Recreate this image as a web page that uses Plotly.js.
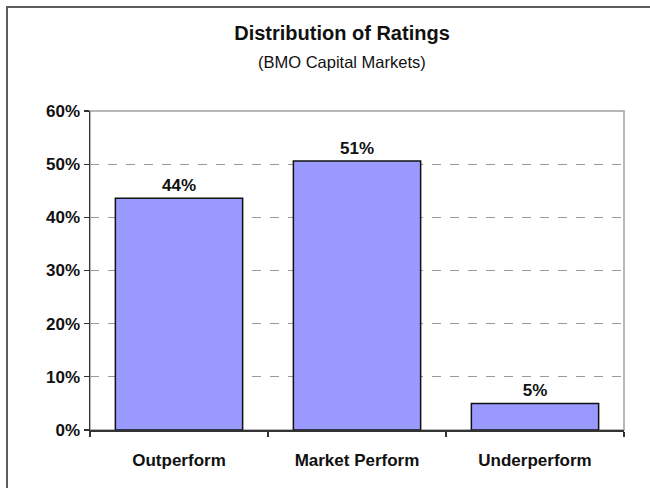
<!DOCTYPE html>
<html>
<head>
<meta charset="utf-8">
<script src="https://cdn.plot.ly/plotly-3.0.1.min.js"></script>
<style>
  html, body { margin: 0; padding: 0; background: #fff; }
  #wrap { position: relative; width: 650px; height: 488px; }
  #chart { width: 650px; height: 488px; }
  #frame { position: absolute; left: 6px; top: 6px; width: 660px; height: 500px;
           border-top: 2px solid #5e5e5e; border-left: 2px solid #5e5e5e;
           pointer-events: none; box-sizing: border-box; }
</style>
</head>
<body>
<div id="wrap">
  <div id="chart"></div>
  <div id="frame"></div>
</div>
<script>
const categories = ["Outperform", "Market Perform", "Underperform"];
const shares = [43.6, 50.6, 5.0];
const valueLabels = ["44%", "51%", "5%"];
const yTickVals = [0, 10, 20, 30, 40, 50, 60];
const yTickText = ["0%", "10%", "20%", "30%", "40%", "50%", "60%"];
const titleText = "Distribution of Ratings";
const subtitleText = "(BMO Capital Markets)";

const FONT = "Liberation Sans, Arial, Helvetica, sans-serif";

const trace = {
  type: "bar",
  x: categories,
  y: shares,
  text: valueLabels,
  textposition: "outside",
  cliponaxis: false,
  textfont: { family: FONT, size: 17, color: "#111", weight: "bold" },
  marker: { color: "#9999FF", line: { color: "#111", width: 1.5 } },
  hoverinfo: "skip"
};

const layout = {
  width: 650,
  height: 488,
  margin: { l: 90, r: 26, t: 111, b: 58 },
  paper_bgcolor: "#ffffff",
  plot_bgcolor: "#ffffff",
  showlegend: false,
  bargap: 0.285,
  font: { family: FONT, color: "#111" },
  title: {
    text: titleText,
    font: { family: FONT, size: 20, color: "#111", weight: "bold" },
    x: 342 / 650, xanchor: "center", xref: "container",
    y: 1 - 33 / 488, yanchor: "middle", yref: "container"
  },
  annotations: [{
    text: subtitleText,
    xref: "paper", yref: "paper",
    x: (342 - 90) / 534, xanchor: "center",
    y: 1 + (111 - 62) / 319, yanchor: "middle",
    showarrow: false,
    font: { family: FONT, size: 16.5, color: "#111" }
  }],
  xaxis: {
    type: "category",
    showgrid: false,
    showline: true, linecolor: "#333", linewidth: 1.5,
    ticks: "outside", ticklen: 5, tickcolor: "#333", tickwidth: 1.2,
    tickson: "boundaries",
    ticklabelstandoff: 14,
    tickfont: { family: FONT, size: 17, color: "#111", weight: "bold" },
    fixedrange: true
  },
  yaxis: {
    range: [0, 60],
    tickvals: yTickVals,
    ticktext: yTickText,
    showgrid: true, gridcolor: "#9a9a9a", gridwidth: 1, griddash: "dash",
    zeroline: false,
    showline: true, linecolor: "#333", linewidth: 1.5,
    ticks: "outside", ticklen: 5, tickcolor: "#333", tickwidth: 1.2,
    tickfont: { family: FONT, size: 17, color: "#111", weight: "bold" },
    fixedrange: true
  },
  shapes: [{
    type: "rect", xref: "paper", yref: "paper", x0: 0, x1: 1, y0: 0, y1: 1,
    line: { color: "#a0a0a0", width: 1.5 }, layer: "below"
  }]
};

Plotly.newPlot("chart", [trace], layout, { displayModeBar: false, staticPlot: true });
</script>
</body>
</html>
